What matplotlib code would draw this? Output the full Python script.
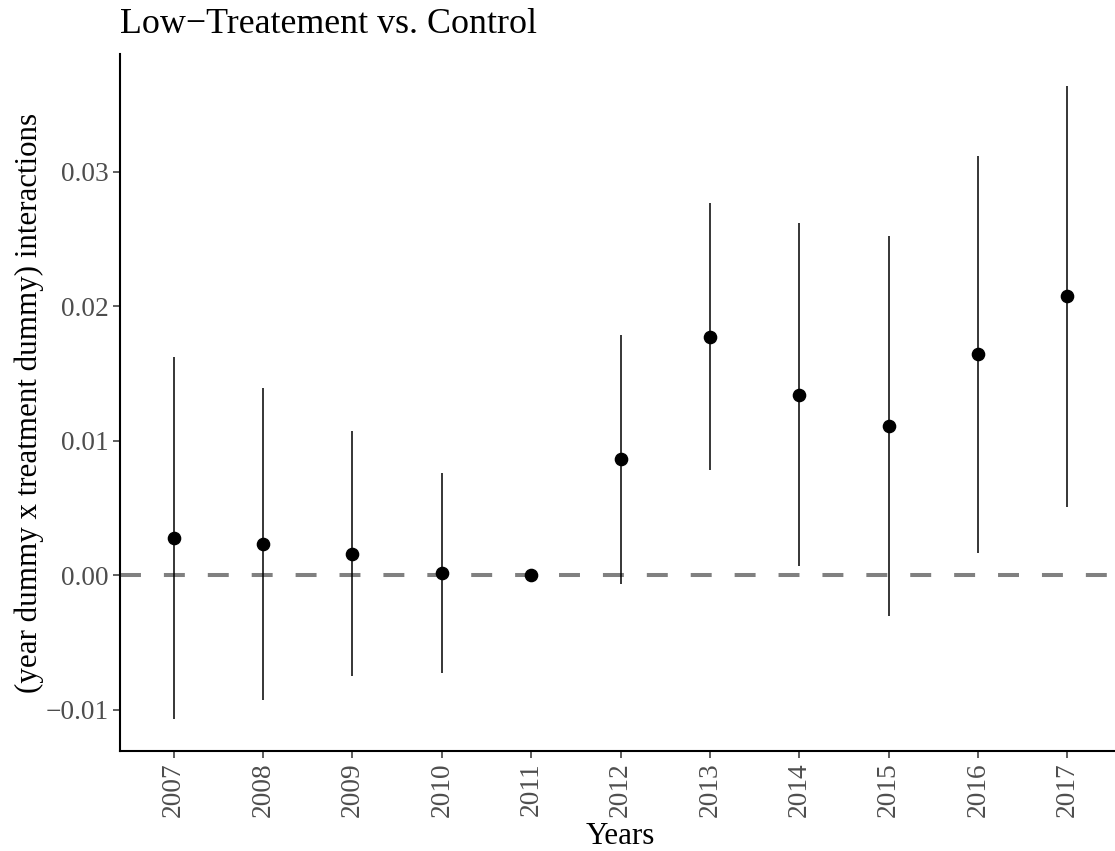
import numpy as np
import matplotlib
matplotlib.use('Agg')
from matplotlib import pyplot as plt

plt.rcParams['font.family'] = ['Liberation Serif', 'DejaVu Serif']

# year x treatment interaction estimates with their confidence bounds
years = ['2007', '2008', '2009', '2010', '2011', '2012',
         '2013', '2014', '2015', '2016', '2017']
estimate = [0.00275, 0.00230, 0.00161, 0.00017, 0.0, 0.00864,
            0.01769, 0.01341, 0.01109, 0.01641, 0.02074]
ci_low = [-0.01071, -0.00928, -0.00750, -0.00730, 0.0, -0.00062,
          0.00780, 0.00069, -0.00302, 0.00168, 0.00510]
ci_high = [0.01620, 0.01393, 0.01069, 0.00762, 0.0, 0.01786,
           0.02764, 0.02616, 0.02522, 0.03116, 0.03638]
yticks = [-0.01, 0.00, 0.01, 0.02, 0.03]

W, H = 1115, 851
fig = plt.figure(figsize=(W / 100, H / 100), dpi=100)
ax = fig.add_axes([120 / W, 1 - 751 / H, 1001 / W, 697 / H])

x = np.arange(1, len(years) + 1)

# zero reference line
lw_dash = 2.9
ax.axhline(0, color='#808080', lw=lw_dash, linestyle=(0, (5.2, 5.7)), zorder=1)

ax.vlines(x, ci_low, ci_high, color='black', lw=1.1, zorder=2)
ax.plot(x, estimate, 'o', color='black', markersize=8.8, zorder=3)

lo = min(ci_low)
hi = max(ci_high)
span = hi - lo
ax.set_ylim(lo - 0.05 * span, hi + 0.05 * span)
ax.set_xlim(0.4, len(years) + 0.6)

ax.set_xticks(x)
ax.set_xticklabels(years, rotation=90)
ax.set_yticks(yticks)
ax.yaxis.set_major_formatter(matplotlib.ticker.FuncFormatter(
    lambda v, p: ('%.2f' % v).replace('-', '\u2212')))

for s in ['top', 'right']:
    ax.spines[s].set_visible(False)
for s in ['left', 'bottom']:
    ax.spines[s].set_linewidth(1.5)
    ax.spines[s].set_color('black')

ax.tick_params(axis='both', length=5, width=1.1, color='#333333',
               labelsize=19.7, labelcolor='#4D4D4D', pad=3)

ax.set_xlabel('Years', fontsize=22.3, labelpad=4)
ax.set_ylabel('(year dummy x treatment dummy) interactions', fontsize=22.3,
              labelpad=1.5)
ax.set_title('Low\u2212Treatement vs. Control', loc='left', fontsize=25.8,
             pad=15)

fig.savefig('out.png', dpi=100)
